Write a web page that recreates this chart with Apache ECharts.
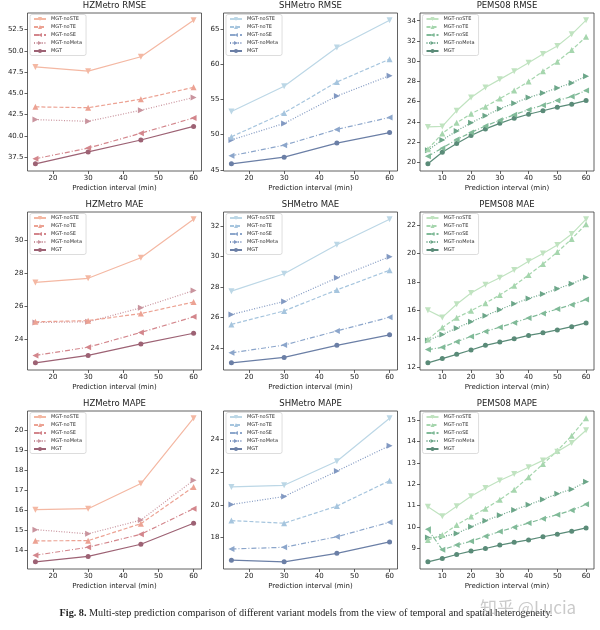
<!DOCTYPE html>
<html>
<head>
<meta charset="utf-8">
<script src="https://cdn.jsdelivr.net/npm/echarts@6/dist/echarts.min.js"></script>
<style>html,body{margin:0;padding:0;background:#fff}#c{width:600px;height:630px}</style>
</head>
<body>
<div id="c"></div>
<script>
// ---- data ----
const seriesNames = ['MGT-noSTE', 'MGT-noTE', 'MGT-noSE', 'MGT-noMeta', 'MGT'];
const metroX = [15, 30, 45, 60];
const pemsX = [5, 10, 15, 20, 25, 30, 35, 40, 45, 50, 55, 60];
const metroXTicks = ['20', '30', '40', '50', '60'];
const pemsXTicks = ['10', '20', '30', '40', '50', '60'];

// rows: noSTE, noTE, noSE, noMeta, MGT
const hzRmse = [
  [48.1, 47.6, 49.3, 53.6],
  [43.4, 43.3, 44.3, 45.7],
  [37.3, 38.55, 40.3, 42.1],
  [41.9, 41.7, 43.0, 44.5],
  [36.7, 38.1, 39.5, 41.1]
];
const shRmse = [
  [53.3, 56.9, 62.4, 66.3],
  [49.7, 53.1, 57.5, 60.75],
  [47.0, 48.5, 50.75, 52.45],
  [49.25, 51.6, 55.5, 58.4],
  [45.85, 46.8, 48.8, 50.3]
];
const peRmse = [
  [23.5, 23.55, 25.1, 26.4, 27.4, 28.2, 29.0, 29.85, 30.7, 31.5, 32.65, 34.05],
  [21.3, 22.85, 23.9, 24.8, 25.5, 26.3, 27.1, 28.0, 29.0, 29.95, 31.1, 32.4],
  [20.6, 21.4, 22.25, 22.95, 23.6, 24.15, 24.7, 25.2, 25.65, 26.1, 26.5, 27.1],
  [21.2, 22.2, 23.1, 23.9, 24.6, 25.3, 25.85, 26.4, 26.85, 27.35, 27.85, 28.5],
  [19.85, 21.0, 21.85, 22.65, 23.3, 23.85, 24.35, 24.75, 25.1, 25.45, 25.75, 26.1]
];
const hzMae = [
  [27.45, 27.7, 28.95, 31.3],
  [25.05, 25.12, 25.55, 26.25],
  [23.0, 23.5, 24.4, 25.35],
  [25.0, 25.05, 25.9, 26.95],
  [22.55, 23.0, 23.7, 24.35]
];
const shMae = [
  [27.73, 28.87, 30.76, 32.43],
  [25.56, 26.44, 27.81, 29.1],
  [23.7, 24.21, 25.13, 26.03],
  [26.2, 27.06, 28.6, 29.98],
  [23.05, 23.4, 24.19, 24.88]
];
const peMae = [
  [16.0, 15.5, 16.43, 17.22, 17.8, 18.29, 18.84, 19.45, 20.0, 20.6, 21.37, 22.42],
  [13.95, 14.78, 15.48, 15.97, 16.5, 17.08, 17.73, 18.49, 19.26, 20.1, 21.03, 22.07],
  [13.23, 13.39, 13.79, 14.16, 14.51, 14.81, 15.13, 15.46, 15.78, 16.09, 16.39, 16.76],
  [13.88, 14.3, 14.74, 15.2, 15.62, 16.04, 16.46, 16.83, 17.15, 17.52, 17.87, 18.31],
  [12.3, 12.6, 12.9, 13.2, 13.53, 13.76, 13.99, 14.23, 14.41, 14.62, 14.85, 15.11]
];
const hzMape = [
  [16.03, 16.08, 17.34, 20.61],
  [14.47, 14.48, 15.33, 17.17],
  [13.75, 14.15, 14.8, 16.08],
  [15.03, 14.82, 15.51, 17.5],
  [13.42, 13.69, 14.3, 15.35]
];
const shMape = [
  [21.1, 21.2, 22.68, 25.32],
  [19.03, 18.87, 19.92, 21.48],
  [17.29, 17.39, 18.04, 18.93],
  [20.02, 20.51, 22.07, 23.63],
  [16.6, 16.5, 17.02, 17.72]
];
const peMape = [
  [10.95, 10.5, 10.97, 11.44, 11.82, 12.17, 12.48, 12.79, 13.11, 13.52, 13.92, 14.52],
  [9.4, 9.63, 10.1, 10.49, 10.86, 11.28, 11.74, 12.33, 12.94, 13.56, 14.26, 15.08],
  [9.9, 8.94, 9.16, 9.34, 9.57, 9.79, 9.99, 10.19, 10.39, 10.58, 10.78, 11.06],
  [9.51, 9.55, 9.7, 10.01, 10.3, 10.55, 10.8, 11.04, 11.29, 11.55, 11.77, 12.11],
  [8.38, 8.54, 8.72, 8.88, 9.0, 9.16, 9.29, 9.4, 9.55, 9.67, 9.81, 9.96]
];

const hzRmseTicks = ['37.5', '40.0', '42.5', '45.0', '47.5', '50.0', '52.5'];
const shRmseTicks = ['45', '50', '55', '60', '65'];
const peRmseTicks = ['20', '22', '24', '26', '28', '30', '32', '34'];
const hzMaeTicks = ['24', '26', '28', '30'];
const shMaeTicks = ['24', '26', '28', '30', '32'];
const peMaeTicks = ['12', '14', '16', '18', '20', '22'];
const hzMapeTicks = ['14', '15', '16', '17', '18', '19', '20'];
const shMapeTicks = ['18', '20', '22', '24'];
const peMapeTicks = ['9', '10', '11', '12', '13', '14', '15'];

const titles = ['HZMetro RMSE', 'SHMetro RMSE', 'PEMS08 RMSE',
                'HZMetro MAE', 'SHMetro MAE', 'PEMS08 MAE',
                'HZMetro MAPE', 'SHMetro MAPE', 'PEMS08 MAPE'];
const xLabel = 'Prediction interval (min)';
const captionBold = 'Fig. 8.';
const captionText = 'Multi-step prediction comparison of different variant models from the view of temporal and spatial heterogeneity.';
const watermark = '知乎 @Lucia';

// ---- styling ----
const palettes = {
  hz: ['#f4b8a3', '#eca293', '#d3868c', '#c9949e', '#9d6274'],
  sh: ['#bcd7e6', '#a6c5de', '#8ca6cb', '#8299c2', '#6b7fa6'],
  pe: ['#c0e3c0', '#a6d6ae', '#80ba98', '#6ca689', '#5a8b78']
};
const symbols = ['path://M0,0L2,0L1,1.8Z', 'triangle', 'path://M2,0L2,2L0,1Z', 'path://M0,0L0,2L2,1Z', 'circle'];
const symSizes = [6, 6, 6, 6, 5];
const dashes = ['solid', [4, 2], [5, 2, 1, 2], [1, 1.6], 'solid'];
const FONT = 'DejaVu Sans';

const panels = [
  { data: hzRmse, x: metroX, xt: metroXTicks, yt: hzRmseTicks, pal: 'hz' },
  { data: shRmse, x: metroX, xt: metroXTicks, yt: shRmseTicks, pal: 'sh' },
  { data: peRmse, x: pemsX, xt: pemsXTicks, yt: peRmseTicks, pal: 'pe' },
  { data: hzMae, x: metroX, xt: metroXTicks, yt: hzMaeTicks, pal: 'hz' },
  { data: shMae, x: metroX, xt: metroXTicks, yt: shMaeTicks, pal: 'sh' },
  { data: peMae, x: pemsX, xt: pemsXTicks, yt: peMaeTicks, pal: 'pe' },
  { data: hzMape, x: metroX, xt: metroXTicks, yt: hzMapeTicks, pal: 'hz' },
  { data: shMape, x: metroX, xt: metroXTicks, yt: shMapeTicks, pal: 'sh' },
  { data: peMape, x: pemsX, xt: pemsXTicks, yt: peMapeTicks, pal: 'pe' }
];

const colLeft = [27.5, 223.5, 420];
const rowTop = [13, 212, 411];
const GW = 174, GH = 158;

const grid = [], xAxis = [], yAxis = [], series = [], legend = [], title = [];

function labelFor(ticks) {
  return function (v) {
    for (const t of ticks) if (Math.abs(Number(t) - v) < 1e-6) return t;
    return '';
  };
}

panels.forEach((p, i) => {
  const r = Math.floor(i / 3), c = i % 3;
  const L = colLeft[c], T = rowTop[r];
  grid.push({ left: L, top: T, width: GW, height: GH, show: true, borderColor: '#3a3a3a', borderWidth: 0.8, backgroundColor: 'transparent' });

  const xmin = Math.min(...p.x), xmax = Math.max(...p.x);
  const xm = (xmax - xmin) * 0.05;
  const all = p.data.flat();
  const ymin = Math.min(...all), ymax = Math.max(...all);
  const ym = (ymax - ymin) * 0.05;

  xAxis.push({
    type: 'value', gridIndex: i, min: xmin - xm, max: xmax + xm,
    name: xLabel, nameLocation: 'middle', nameGap: 14,
    nameTextStyle: { fontFamily: FONT, fontSize: 7, color: '#222' },
    axisLine: { show: false },
    axisTick: { show: true, length: 3, lineStyle: { color: '#3a3a3a', width: 0.8 }, customValues: p.xt.map(Number) },
    axisLabel: { fontFamily: FONT, fontSize: 7, color: '#222', margin: 4, customValues: p.xt.map(Number), formatter: labelFor(p.xt) },
    splitLine: { show: false }
  });
  yAxis.push({
    type: 'value', gridIndex: i, min: ymin - ym, max: ymax + ym,
    axisLine: { show: false },
    axisTick: { show: true, length: 3, lineStyle: { color: '#3a3a3a', width: 0.8 }, customValues: p.yt.map(Number) },
    axisLabel: { fontFamily: FONT, fontSize: 7, color: '#222', margin: 4, customValues: p.yt.map(Number), formatter: labelFor(p.yt) },
    splitLine: { show: false }
  });

  const legendData = [];
  p.data.forEach((vals, k) => {
    const nm = seriesNames[k] + '|' + i;
    legendData.push(nm);
    const col = palettes[p.pal][k];
    series.push({
      type: 'line', name: nm, xAxisIndex: i, yAxisIndex: i,
      data: vals.map((v, j) => [p.x[j], v]),
      symbol: symbols[k], symbolSize: symSizes[k], showSymbol: true,
      lineStyle: { color: col, width: 1.2, type: dashes[k] },
      itemStyle: { color: col, borderWidth: 0 },
      z: 10 - k,
      animation: false
    });
  });

  legend.push({
    orient: 'vertical', left: L + 2.5, top: T + 1.5,
    itemWidth: 12, itemHeight: 5, itemGap: 3,
    padding: [2, 4, 2, 3],
    borderColor: '#d4d4d4', borderWidth: 0.8, borderRadius: 2,
    backgroundColor: 'rgba(255,255,255,0.85)',
    textStyle: { fontFamily: FONT, fontSize: 5, color: '#333', lineHeight: 5 },
    data: legendData, formatter: n => n.split('|')[0],
    selectedMode: false
  });

  title.push({
    text: titles[i], left: L + GW / 2, top: T - 12, textAlign: 'center', padding: 0,
    textStyle: { fontFamily: FONT, fontSize: 8.5, fontWeight: 'normal', color: '#222' }
  });
});

title.push({
  text: '{b|' + captionBold + '} ' + captionText,
  left: 306, top: 608, padding: 0, textAlign: 'center',
  textStyle: {
    fontFamily: 'Liberation Serif', fontSize: 10.2, fontWeight: 'normal', color: '#1e1e1e',
    rich: { b: { fontFamily: 'Liberation Serif', fontSize: 10.2, fontWeight: 'bold', color: '#1e1e1e' } }
  }
});

const chart = echarts.init(document.getElementById('c'), null, { renderer: 'canvas' });
chart.setOption({
  animation: false,
  backgroundColor: '#fff',
  title, grid, xAxis, yAxis, series, legend,
  graphic: [{
    type: 'text', left: 480, top: 599, z: 100,
    style: { text: watermark, fontFamily: 'Noto Sans CJK SC', fontSize: 17, fill: 'rgba(150,150,150,0.5)' }
  }]
});
</script>
</body>
</html>
